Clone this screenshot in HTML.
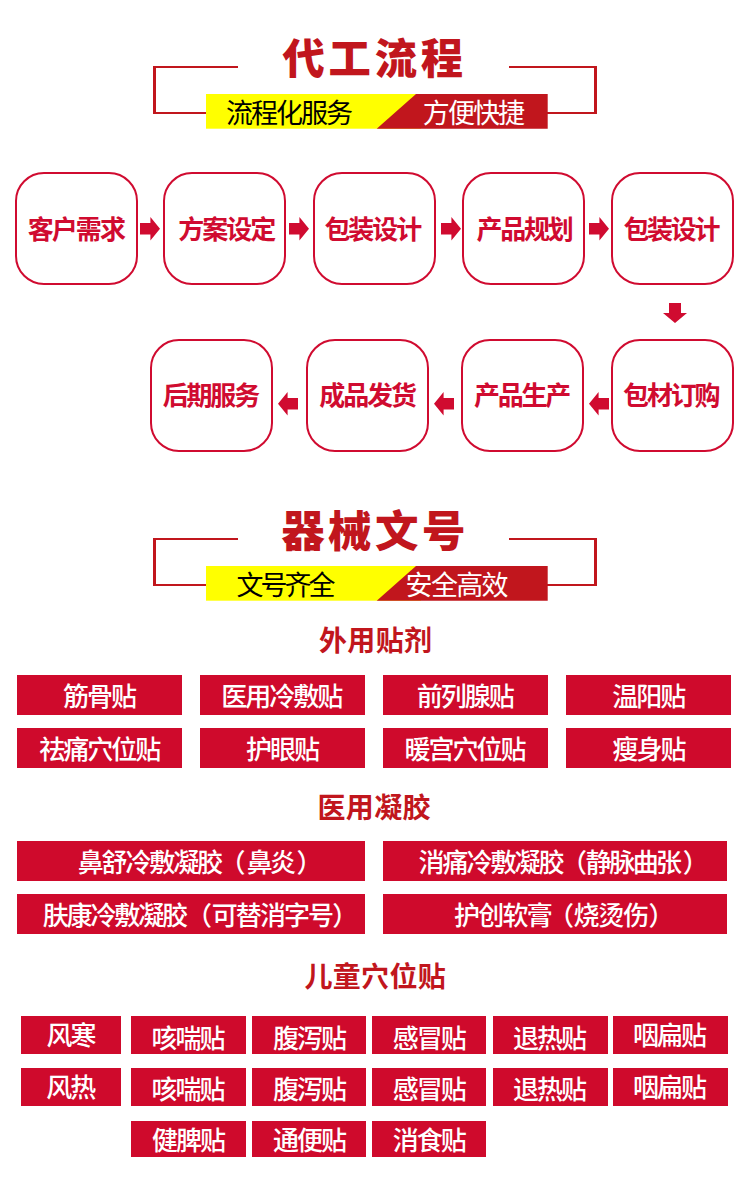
<!DOCTYPE html>
<html lang="zh-CN"><head><meta charset="utf-8"><title>代工流程</title><style>
html,body{margin:0;padding:0;background:#fff}
body{width:750px;height:1201px;position:relative;overflow:hidden;font-family:"Liberation Sans","Noto Sans CJK SC",sans-serif}
.t{position:absolute;overflow:visible;line-height:1.2;white-space:nowrap;font-family:"Liberation Sans","Noto Sans CJK SC",sans-serif}
.t span{position:absolute;left:0;top:0}
.hd{position:absolute;left:0;width:750px;height:140px}
.ln{position:absolute;background:#c1161d;display:block}
.bar{position:absolute;left:206px;top:94px;width:342px;height:35px}
.bar svg{display:block}
.bx{position:absolute;width:119px;height:109px;border:2px solid #d00b30;border-radius:29px}
.ar{position:absolute}
.tg{position:absolute;background:#cf0a2c}
</style></head><body>
<div class="hd" style="top:0px">
<i class="ln" style="left:153px;top:66px;width:85px;height:2px"></i>
<i class="ln" style="left:153px;top:66px;width:3px;height:47.9px"></i>
<i class="ln" style="left:153px;top:111.9px;width:54px;height:2px"></i>
<i class="ln" style="left:509px;top:66px;width:88px;height:2px"></i>
<i class="ln" style="left:594px;top:66px;width:3px;height:47.9px"></i>
<i class="ln" style="left:547px;top:111.9px;width:50px;height:2px"></i>
<div class="bar"><svg width="342" height="35" viewBox="0 0 342 35"><rect width="215" height="34.7" fill="#ffff00"/><polygon points="210,0 341.7,0 341.7,34.7 170.7,34.7" fill="#c1161d"/></svg></div>
<div class="t" style="left:282.46px;top:34.65px;width:183.97px;height:50.76px;color:#c1161d;font-size:42.3px;letter-spacing:3.8px;font-weight:900"><span>代工流程</span></div>
<div class="t" style="left:225.9px;top:97.8px;width:125.08px;height:32.4px;color:#000;font-size:27px;letter-spacing:-1.98px;font-weight:400"><span>流程化服务</span></div>
<div class="t" style="left:422.85px;top:97.8px;width:100.25px;height:32.4px;color:#fff;font-size:27px;letter-spacing:-1.92px;font-weight:400"><span>方便快捷</span></div>
</div>
<div class="bx" style="left:15px;top:172px">
<div class="t" style="left:10.63px;top:40.5px;width:97.3px;height:31.2px;color:#d00b30;font-size:26px;letter-spacing:-1.89px;font-weight:700"><span>客户需求</span></div>
</div>
<div class="bx" style="left:163px;top:172px">
<div class="t" style="left:13.13px;top:40.5px;width:97.17px;height:31.2px;color:#d00b30;font-size:26px;letter-spacing:-1.93px;font-weight:700"><span>方案设定</span></div>
</div>
<div class="bx" style="left:313px;top:172px">
<div class="t" style="left:9.38px;top:40.5px;width:96.75px;height:31.2px;color:#d00b30;font-size:26px;letter-spacing:-2.07px;font-weight:700"><span>包装设计</span></div>
</div>
<div class="bx" style="left:462px;top:172px">
<div class="t" style="left:12.4px;top:40.5px;width:96.4px;height:31.2px;color:#d00b30;font-size:26px;letter-spacing:-2.19px;font-weight:700"><span>产品规划</span></div>
</div>
<div class="bx" style="left:611.3px;top:172px">
<div class="t" style="left:10.08px;top:40.5px;width:96.15px;height:31.2px;color:#d00b30;font-size:26px;letter-spacing:-2.27px;font-weight:700"><span>包装设计</span></div>
</div>
<svg class="ar" style="left:140.1px;top:217.2px" width="20" height="24" viewBox="0 0 20 24"><polygon points="0,5.9 10.4,5.9 10.4,0 20,11.7 10.4,23.4 10.4,17.6 0,17.6" fill="#d00b30"/></svg>
<svg class="ar" style="left:289px;top:217.2px" width="20" height="24" viewBox="0 0 20 24"><polygon points="0,5.9 10.4,5.9 10.4,0 20,11.7 10.4,23.4 10.4,17.6 0,17.6" fill="#d00b30"/></svg>
<svg class="ar" style="left:441px;top:217.2px" width="20" height="24" viewBox="0 0 20 24"><polygon points="0,5.9 10.4,5.9 10.4,0 20,11.7 10.4,23.4 10.4,17.6 0,17.6" fill="#d00b30"/></svg>
<svg class="ar" style="left:589px;top:217.2px" width="20" height="24" viewBox="0 0 20 24"><polygon points="0,5.9 10.4,5.9 10.4,0 20,11.7 10.4,23.4 10.4,17.6 0,17.6" fill="#d00b30"/></svg>
<svg class="ar" style="left:663px;top:303px" width="24" height="20" viewBox="0 0 24 20"><polygon points="6,0 18,0 18,10 24,10 12,20 0,10 6,10" fill="#d00b30"/></svg>
<div class="bx" style="left:150px;top:339px">
<div class="t" style="left:10.68px;top:39.8px;width:96.42px;height:31.2px;color:#d00b30;font-size:26px;letter-spacing:-2.18px;font-weight:700"><span>后期服务</span></div>
</div>
<div class="bx" style="left:305.7px;top:339px">
<div class="t" style="left:11.68px;top:39.8px;width:96.55px;height:31.2px;color:#d00b30;font-size:26px;letter-spacing:-2.14px;font-weight:700"><span>成品发货</span></div>
</div>
<div class="bx" style="left:461px;top:339px">
<div class="t" style="left:10.9px;top:39.8px;width:96.4px;height:31.2px;color:#d00b30;font-size:26px;letter-spacing:-2.19px;font-weight:700"><span>产品生产</span></div>
</div>
<div class="bx" style="left:611.2px;top:339px">
<div class="t" style="left:9.88px;top:39.8px;width:96.45px;height:31.2px;color:#d00b30;font-size:26px;letter-spacing:-2.17px;font-weight:700"><span>包材订购</span></div>
</div>
<svg class="ar" style="left:277.5px;top:391.5px" width="20" height="24" viewBox="0 0 20 24"><polygon points="20,5.9 9.6,5.9 9.6,0 0,11.7 9.6,23.4 9.6,17.6 20,17.6" fill="#d00b30"/></svg>
<svg class="ar" style="left:434px;top:391.5px" width="20" height="24" viewBox="0 0 20 24"><polygon points="20,5.9 9.6,5.9 9.6,0 0,11.7 9.6,23.4 9.6,17.6 20,17.6" fill="#d00b30"/></svg>
<svg class="ar" style="left:589px;top:391.5px" width="20" height="24" viewBox="0 0 20 24"><polygon points="20,5.9 9.6,5.9 9.6,0 0,11.7 9.6,23.4 9.6,17.6 20,17.6" fill="#d00b30"/></svg>
<div class="hd" style="top:472px">
<i class="ln" style="left:153px;top:66px;width:85px;height:2px"></i>
<i class="ln" style="left:153px;top:66px;width:3px;height:47.9px"></i>
<i class="ln" style="left:153px;top:111.9px;width:54px;height:2px"></i>
<i class="ln" style="left:509px;top:66px;width:88px;height:2px"></i>
<i class="ln" style="left:594px;top:66px;width:3px;height:47.9px"></i>
<i class="ln" style="left:547px;top:111.9px;width:50px;height:2px"></i>
<div class="bar"><svg width="342" height="35" viewBox="0 0 342 35"><rect width="215" height="34.7" fill="#ffff00"/><polygon points="210,0 341.7,0 341.7,34.7 170.7,34.7" fill="#c1161d"/></svg></div>
<div class="t" style="left:281.16px;top:34.05px;width:186.41px;height:52.2px;color:#c1161d;font-size:43.5px;letter-spacing:3.41px;font-weight:900"><span>器械文号</span></div>
<div class="t" style="left:236.5px;top:97.8px;width:97.08px;height:32.4px;color:#000;font-size:27px;letter-spacing:-2.98px;font-weight:400"><span>文号齐全</span></div>
<div class="t" style="left:405.57px;top:97.8px;width:101.05px;height:32.4px;color:#fff;font-size:27px;letter-spacing:-1.65px;font-weight:400"><span>安全高效</span></div>
</div>
<div class="t" style="left:319.04px;top:625px;width:114.08px;height:33.6px;color:#c1161d;font-size:28px;letter-spacing:0.32px;font-weight:700"><span>外用贴剂</span></div>
<div class="tg" style="left:17px;top:675px;width:165px;height:40px">
<div class="t" style="left:46.11px;top:7px;width:73px;height:31.2px;color:#fff;font-size:26px;letter-spacing:-2px;font-weight:500"><span>筋骨贴</span></div>
</div>
<div class="tg" style="left:200px;top:675px;width:165px;height:40px">
<div class="t" style="left:21.33px;top:7px;width:121px;height:31.2px;color:#fff;font-size:26px;letter-spacing:-2px;font-weight:500"><span>医用冷敷贴</span></div>
</div>
<div class="tg" style="left:383px;top:675px;width:165px;height:40px">
<div class="t" style="left:33.84px;top:7px;width:97px;height:31.2px;color:#fff;font-size:26px;letter-spacing:-2px;font-weight:500"><span>前列腺贴</span></div>
</div>
<div class="tg" style="left:566.3px;top:675px;width:165px;height:40px">
<div class="t" style="left:46.03px;top:7px;width:73px;height:31.2px;color:#fff;font-size:26px;letter-spacing:-2px;font-weight:500"><span>温阳贴</span></div>
</div>
<div class="tg" style="left:17px;top:728px;width:165px;height:40px">
<div class="t" style="left:22.14px;top:7px;width:121px;height:31.2px;color:#fff;font-size:26px;letter-spacing:-2px;font-weight:500"><span>祛痛穴位贴</span></div>
</div>
<div class="tg" style="left:200px;top:728px;width:165px;height:40px">
<div class="t" style="left:46.03px;top:7px;width:73px;height:31.2px;color:#fff;font-size:26px;letter-spacing:-2px;font-weight:500"><span>护眼贴</span></div>
</div>
<div class="tg" style="left:383px;top:728px;width:165px;height:40px">
<div class="t" style="left:21.57px;top:7px;width:121px;height:31.2px;color:#fff;font-size:26px;letter-spacing:-2px;font-weight:500"><span>暖宫穴位贴</span></div>
</div>
<div class="tg" style="left:566.3px;top:728px;width:165px;height:40px">
<div class="t" style="left:46.09px;top:7px;width:73px;height:31.2px;color:#fff;font-size:26px;letter-spacing:-2px;font-weight:500"><span>瘦身贴</span></div>
</div>
<div class="t" style="left:317.54px;top:792.3px;width:114.08px;height:33.6px;color:#c1161d;font-size:28px;letter-spacing:0.32px;font-weight:700"><span>医用凝胶</span></div>
<div class="tg" style="left:17px;top:841px;width:348px;height:39.6px">
<div class="t" style="left:60.68px;top:7.1px;width:144.37px;height:31.2px;color:#fff;font-size:26px;letter-spacing:-2.12px;font-weight:500"><span>鼻舒冷敷凝胶</span></div>
<div class="t" style="left:202.49px;top:7.1px;width:25px;height:31.2px;color:#fff;font-size:26px;letter-spacing:-1px;font-weight:500"><span>（</span></div>
<div class="t" style="left:229.68px;top:7.1px;width:48.42px;height:31.2px;color:#fff;font-size:26px;letter-spacing:-2.57px;font-weight:500"><span>鼻炎</span></div>
<div class="t" style="left:279.61px;top:7.1px;width:25px;height:31.2px;color:#fff;font-size:26px;letter-spacing:-1px;font-weight:500"><span>）</span></div>
</div>
<div class="tg" style="left:383px;top:841px;width:344px;height:39.6px">
<div class="t" style="left:35.55px;top:7.1px;width:145px;height:31.2px;color:#fff;font-size:26px;letter-spacing:-2px;font-weight:500"><span>消痛冷敷凝胶</span></div>
<div class="t" style="left:177.89px;top:7.1px;width:25px;height:31.2px;color:#fff;font-size:26px;letter-spacing:-1px;font-weight:500"><span>（</span></div>
<div class="t" style="left:202.78px;top:7.1px;width:95.32px;height:31.2px;color:#fff;font-size:26px;letter-spacing:-2.56px;font-weight:500"><span>静脉曲张</span></div>
<div class="t" style="left:299.86px;top:7.1px;width:25px;height:31.2px;color:#fff;font-size:26px;letter-spacing:-1px;font-weight:500"><span>）</span></div>
</div>
<div class="tg" style="left:17px;top:894px;width:348px;height:39.7px">
<div class="t" style="left:25.68px;top:6.85px;width:144.37px;height:31.2px;color:#fff;font-size:26px;letter-spacing:-2.12px;font-weight:500"><span>肤康冷敷凝胶</span></div>
<div class="t" style="left:168.99px;top:6.85px;width:25px;height:31.2px;color:#fff;font-size:26px;letter-spacing:-1px;font-weight:500"><span>（</span></div>
<div class="t" style="left:194.8px;top:6.85px;width:121.17px;height:31.2px;color:#fff;font-size:26px;letter-spacing:-1.96px;font-weight:500"><span>可替消字号</span></div>
<div class="t" style="left:315.26px;top:6.85px;width:25px;height:31.2px;color:#fff;font-size:26px;letter-spacing:-1px;font-weight:500"><span>）</span></div>
</div>
<div class="tg" style="left:383px;top:894px;width:344px;height:39.7px">
<div class="t" style="left:71.05px;top:6.85px;width:97.65px;height:31.2px;color:#fff;font-size:26px;letter-spacing:-1.78px;font-weight:500"><span>护创软膏</span></div>
<div class="t" style="left:164.99px;top:6.85px;width:25px;height:31.2px;color:#fff;font-size:26px;letter-spacing:-1px;font-weight:500"><span>（</span></div>
<div class="t" style="left:190.45px;top:6.85px;width:74.72px;height:31.2px;color:#fff;font-size:26px;letter-spacing:-1.14px;font-weight:500"><span>烧烫伤</span></div>
<div class="t" style="left:265.41px;top:6.85px;width:25px;height:31.2px;color:#fff;font-size:26px;letter-spacing:-1px;font-weight:500"><span>）</span></div>
</div>
<div class="t" style="left:304.43px;top:961px;width:142.4px;height:33.6px;color:#c1161d;font-size:28px;letter-spacing:0.32px;font-weight:700"><span>儿童穴位贴</span></div>
<div class="tg" style="left:21px;top:1016px;width:100px;height:37.6px">
<div class="t" style="left:25.45px;top:5.2px;width:49px;height:31.2px;color:#fff;font-size:26px;letter-spacing:-2px;font-weight:500"><span>风寒</span></div>
</div>
<div class="tg" style="left:131px;top:1016px;width:115px;height:37.6px">
<div class="t" style="left:20.38px;top:7.5px;width:73px;height:31.2px;color:#fff;font-size:26px;letter-spacing:-2px;font-weight:500"><span>咳喘贴</span></div>
</div>
<div class="tg" style="left:252px;top:1016px;width:114.4px;height:37.6px">
<div class="t" style="left:21.11px;top:7.5px;width:73px;height:31.2px;color:#fff;font-size:26px;letter-spacing:-2px;font-weight:500"><span>腹泻贴</span></div>
</div>
<div class="tg" style="left:372px;top:1016px;width:114px;height:37.6px">
<div class="t" style="left:20.75px;top:7.5px;width:73px;height:31.2px;color:#fff;font-size:26px;letter-spacing:-2px;font-weight:500"><span>感冒贴</span></div>
</div>
<div class="tg" style="left:493px;top:1016px;width:115px;height:37.6px">
<div class="t" style="left:19.99px;top:7.5px;width:73px;height:31.2px;color:#fff;font-size:26px;letter-spacing:-2px;font-weight:500"><span>退热贴</span></div>
</div>
<div class="tg" style="left:613.4px;top:1016px;width:114.6px;height:37.6px">
<div class="t" style="left:19.68px;top:5.3px;width:73px;height:31.2px;color:#fff;font-size:26px;letter-spacing:-2px;font-weight:500"><span>咽扁贴</span></div>
</div>
<div class="tg" style="left:21px;top:1068px;width:100px;height:37.7px">
<div class="t" style="left:25.35px;top:4.95px;width:49px;height:31.2px;color:#fff;font-size:26px;letter-spacing:-2px;font-weight:500"><span>风热</span></div>
</div>
<div class="tg" style="left:131px;top:1068px;width:115px;height:37.7px">
<div class="t" style="left:20.38px;top:7.35px;width:73px;height:31.2px;color:#fff;font-size:26px;letter-spacing:-2px;font-weight:500"><span>咳喘贴</span></div>
</div>
<div class="tg" style="left:252px;top:1068px;width:114.4px;height:37.7px">
<div class="t" style="left:21.11px;top:7.35px;width:73px;height:31.2px;color:#fff;font-size:26px;letter-spacing:-2px;font-weight:500"><span>腹泻贴</span></div>
</div>
<div class="tg" style="left:372px;top:1068px;width:114px;height:37.7px">
<div class="t" style="left:20.75px;top:7.35px;width:73px;height:31.2px;color:#fff;font-size:26px;letter-spacing:-2px;font-weight:500"><span>感冒贴</span></div>
</div>
<div class="tg" style="left:493px;top:1068px;width:115px;height:37.7px">
<div class="t" style="left:19.99px;top:7.35px;width:73px;height:31.2px;color:#fff;font-size:26px;letter-spacing:-2px;font-weight:500"><span>退热贴</span></div>
</div>
<div class="tg" style="left:613.4px;top:1068px;width:114.6px;height:37.7px">
<div class="t" style="left:19.68px;top:4.65px;width:73px;height:31.2px;color:#fff;font-size:26px;letter-spacing:-2px;font-weight:500"><span>咽扁贴</span></div>
</div>
<div class="tg" style="left:131px;top:1120.7px;width:115px;height:36.7px">
<div class="t" style="left:20.89px;top:5.75px;width:73px;height:31.2px;color:#fff;font-size:26px;letter-spacing:-2px;font-weight:500"><span>健脾贴</span></div>
</div>
<div class="tg" style="left:252px;top:1120.7px;width:114.4px;height:36.7px">
<div class="t" style="left:21.01px;top:5.75px;width:73px;height:31.2px;color:#fff;font-size:26px;letter-spacing:-2px;font-weight:500"><span>通便贴</span></div>
</div>
<div class="tg" style="left:372px;top:1120.7px;width:114px;height:36.7px">
<div class="t" style="left:20.83px;top:5.75px;width:73px;height:31.2px;color:#fff;font-size:26px;letter-spacing:-2px;font-weight:500"><span>消食贴</span></div>
</div>
</body></html>
